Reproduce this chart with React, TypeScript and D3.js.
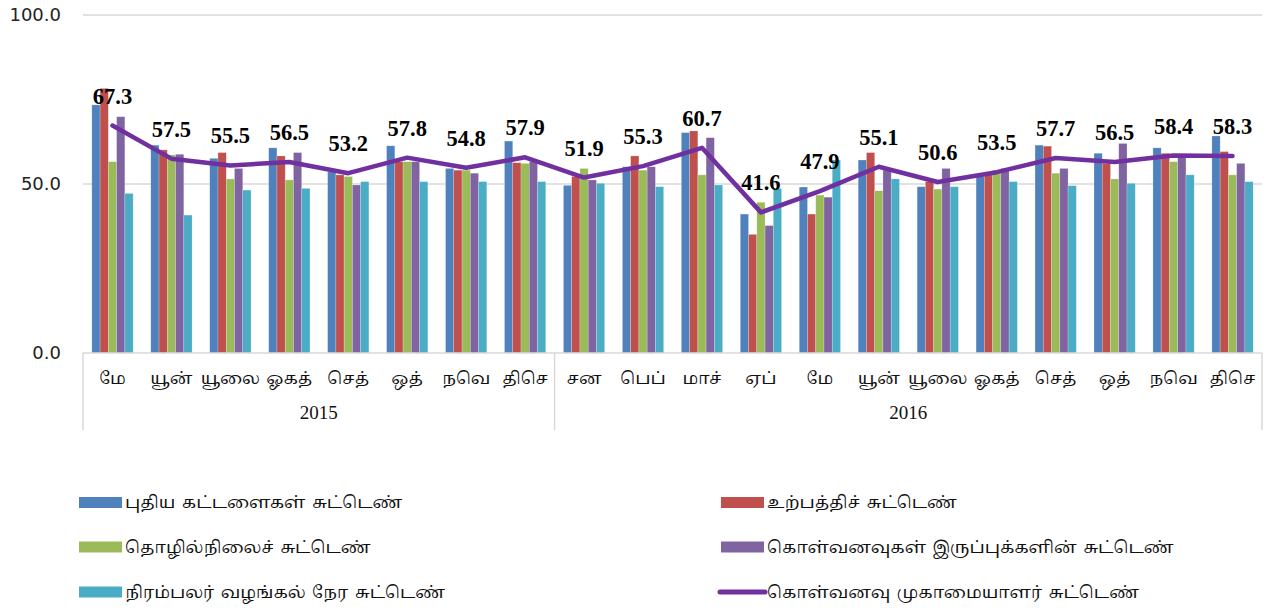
import React, { useEffect, useRef } from "react";
import * as d3 from "d3";

const months = ["மே", "யூன்", "யூலை", "ஓகத்", "செத்", "ஒத்", "நவெ", "திசெ", "சன", "பெப்", "மாச்", "ஏப்", "மே", "யூன்", "யூலை", "ஓகத்", "செத்", "ஒத்", "நவெ", "திசெ"];
const yearLabels = ["2015", "2016"];
const yearSpans = [8, 12];

const seriesNames = [
  "புதிய கட்டளைகள் சுட்டெண்",
  "உற்பத்திச் சுட்டெண்",
  "தொழில்நிலைச் சுட்டெண்",
  "கொள்வனவுகள் இருப்புக்களின் சுட்டெண்",
  "நிரம்பலர் வழங்கல் நேர சுட்டெண்",
];
const lineName = "கொள்வனவு முகாமையாளர் சுட்டெண்";

const newOrders = [73.4, 61.5, 57.6, 60.7, 53.6, 61.3, 54.6, 62.7, 49.6, 55.1, 65.2, 41.1, 49.1, 57.1, 49.2, 52.2, 61.5, 59.1, 60.7, 64.2];
const production = [78.3, 60.1, 59.3, 58.3, 52.7, 56.6, 54.1, 56.3, 52.2, 58.3, 65.7, 35.1, 41.1, 59.3, 50.7, 53.2, 61.2, 56.1, 59.1, 59.6];
const employment = [56.6, 58.6, 51.5, 51.2, 52.2, 56.6, 54.1, 56.1, 54.6, 54.1, 52.7, 44.6, 46.7, 48.0, 48.5, 54.1, 53.2, 51.5, 56.6, 52.7];
const stocks = [69.9, 58.8, 54.6, 59.3, 49.7, 56.6, 53.2, 56.6, 51.2, 55.1, 63.7, 37.7, 46.1, 54.1, 54.6, 54.6, 54.6, 62.0, 58.1, 56.1];
const delivery = [47.2, 40.8, 48.2, 48.7, 50.7, 50.7, 50.7, 50.7, 50.2, 49.2, 49.7, 48.7, 57.1, 51.5, 49.2, 50.7, 49.5, 50.2, 52.7, 50.7];
const pmi = [67.3, 57.5, 55.5, 56.5, 53.2, 57.8, 54.8, 57.9, 51.9, 55.3, 60.7, 41.6, 47.9, 55.1, 50.6, 53.5, 57.7, 56.5, 58.4, 58.3];

const yTicks = [0, 50, 100];
const barColors = ["#4F81BD", "#C0504D", "#9BBB59", "#8064A2", "#4BACC6"];
const lineColor = "#7030A0";

const tamilFont = "Latha, 'Noto Serif Tamil', 'Noto Sans Tamil', 'Lohit Tamil', serif";

export default function App() {
  const ref = useRef<SVGSVGElement>(null);

  useEffect(() => {
    const width = 1279;
    const height = 611;
    const left = 83;
    const right = 1262;
    const top = 15;
    const bottom = 353;

    const svg = d3.select(ref.current).attr("width", width).attr("height", height);
    svg.selectAll("*").remove();

    const seriesValues = [newOrders, production, employment, stocks, delivery];

    const x = d3.scaleBand<number>().domain(months.map((_, i) => i)).range([left, right]).padding(0);
    const step = x.bandwidth();
    const xs = d3
      .scaleBand<number>()
      .domain(seriesValues.map((_, i) => i))
      .range([step * 0.15, step * 0.85])
      .padding(0);
    const y = d3.scaleLinear().domain([0, 100]).range([bottom, top]);

    // gridlines
    svg.append("g")
      .selectAll("line")
      .data(yTicks.filter((t) => t > 0))
      .join("line")
      .attr("x1", left)
      .attr("x2", right)
      .attr("y1", (d) => y(d))
      .attr("y2", (d) => y(d))
      .attr("stroke", "#D9D9D9")
      .attr("stroke-width", 1.5);

    // y labels
    svg.append("g")
      .selectAll("text")
      .data(yTicks)
      .join("text")
      .attr("x", 61)
      .attr("y", (d) => y(d))
      .attr("dy", "0.36em")
      .attr("text-anchor", "end")
      .attr("font-family", "'DejaVu Sans', sans-serif")
      .attr("font-size", 18)
      .attr("fill", "#222")
      .text((d) => d3.format(".1f")(d));

    // bars
    seriesValues.forEach((vals, s) => {
      svg.append("g")
        .selectAll("rect")
        .data(vals)
        .join("rect")
        .attr("x", (_, i) => (x(i) as number) + (xs(s) as number))
        .attr("y", (d) => y(d))
        .attr("width", xs.bandwidth())
        .attr("height", (d) => bottom - y(d))
        .attr("fill", barColors[s])
        .attr("stroke", "#ffffff")
        .attr("stroke-opacity", 0.35)
        .attr("stroke-width", 0.6);
    });

    // axis lines
    const ax = svg.append("g").attr("stroke", "#D9D9D9").attr("stroke-width", 1.5);
    ax.append("line").attr("x1", left).attr("x2", right).attr("y1", bottom).attr("y2", bottom);
    let acc = 0;
    const bounds = [0];
    yearSpans.forEach((n) => {
      acc += n;
      bounds.push(acc);
    });
    bounds.forEach((b) => {
      const bx = b === months.length ? right : (x(b) as number);
      ax.append("line").attr("x1", bx).attr("x2", bx).attr("y1", bottom).attr("y2", 430);
    });

    // month labels
    svg.append("g")
      .selectAll("text")
      .data(months)
      .join("text")
      .attr("x", (_, i) => (x(i) as number) + step / 2)
      .attr("y", 384)
      .attr("text-anchor", "middle")
      .attr("font-family", tamilFont)
      .attr("font-size", 17)
      .attr("fill", "#111")
      .text((d) => d);

    // year labels
    yearLabels.forEach((lab, i) => {
      const x0 = x(bounds[i]) as number;
      const x1 = bounds[i + 1] === months.length ? right : (x(bounds[i + 1]) as number);
      svg.append("text")
        .attr("x", (x0 + x1) / 2)
        .attr("y", 419)
        .attr("text-anchor", "middle")
        .attr("font-family", "'Liberation Serif', 'Times New Roman', serif")
        .attr("font-size", 19)
        .attr("fill", "#111")
        .text(lab);
    });

    // PMI line
    const line = d3
      .line<number>()
      .x((_, i) => (x(i) as number) + step / 2)
      .y((d) => y(d));
    svg.append("path")
      .datum(pmi)
      .attr("d", line)
      .attr("fill", "none")
      .attr("stroke", lineColor)
      .attr("stroke-width", 4.5)
      .attr("stroke-linejoin", "round")
      .attr("stroke-linecap", "round");

    // data labels
    svg.append("g")
      .selectAll("text")
      .data(pmi)
      .join("text")
      .attr("x", (_, i) => (x(i) as number) + step / 2)
      .attr("y", (d) => y(d) - 22)
      .attr("text-anchor", "middle")
      .attr("font-family", "'Liberation Serif', 'Times New Roman', serif")
      .attr("font-weight", "bold")
      .attr("font-size", 22.5)
      .attr("fill", "#000")
      .text((d) => d3.format(".1f")(d));

    // legend
    const legendItems = [
      { name: seriesNames[0], color: barColors[0], kind: "bar", col: 0, row: 0 },
      { name: seriesNames[1], color: barColors[1], kind: "bar", col: 1, row: 0 },
      { name: seriesNames[2], color: barColors[2], kind: "bar", col: 0, row: 1 },
      { name: seriesNames[3], color: barColors[3], kind: "bar", col: 1, row: 1 },
      { name: seriesNames[4], color: barColors[4], kind: "bar", col: 0, row: 2 },
      { name: lineName, color: lineColor, kind: "line", col: 1, row: 2 },
    ];
    const colX = [79, 721];
    const rowY = [502.5, 547, 592];
    const lg = svg.append("g");
    legendItems.forEach((it) => {
      const lx = colX[it.col];
      const ly = rowY[it.row];
      if (it.kind === "bar") {
        lg.append("rect").attr("x", lx).attr("y", ly - 5.5).attr("width", 43).attr("height", 11).attr("fill", it.color);
      } else {
        lg.append("line")
          .attr("x1", lx - 1)
          .attr("x2", lx + 44)
          .attr("y1", ly)
          .attr("y2", ly)
          .attr("stroke", it.color)
          .attr("stroke-width", 5)
          .attr("stroke-linecap", "round");
      }
      lg.append("text")
        .attr("x", lx + 46)
        .attr("y", ly)
        .attr("dy", "0.35em")
        .attr("font-family", tamilFont)
        .attr("font-size", 17)
        .attr("word-spacing", 2)
        .attr("fill", "#111")
        .text(it.name);
    });
  }, []);

  return (
    <div style={{ position: "absolute", left: 0, top: 0 }}>
      <svg ref={ref} style={{ display: "block", background: "#fff" }}></svg>
    </div>
  );
}
